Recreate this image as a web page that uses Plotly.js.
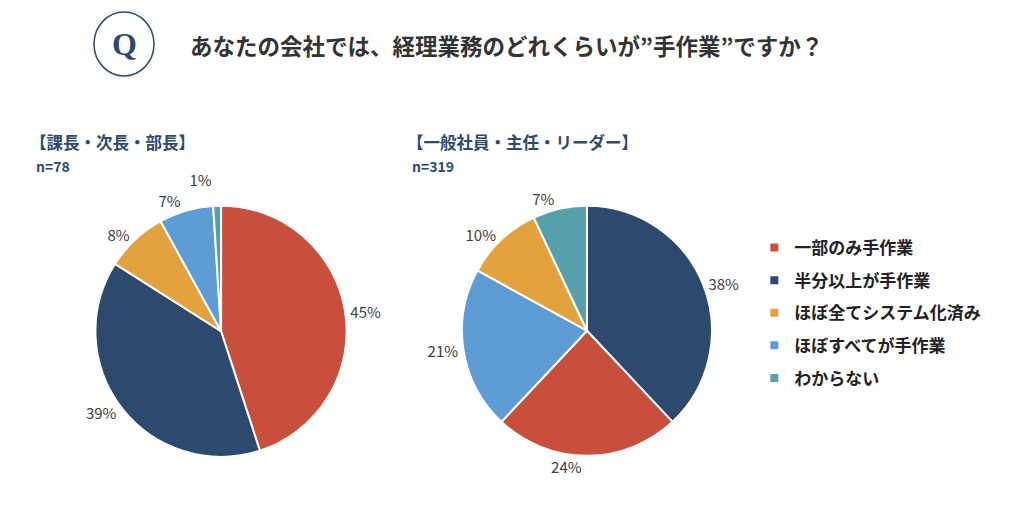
<!DOCTYPE html>
<html>
<head>
<meta charset="utf-8">
<script src="https://cdn.plot.ly/plotly-3.0.1.min.js"></script>
<style>
  html, body { margin: 0; padding: 0; background: #fff; }
  #chart { width: 1018px; height: 530px; }
  /* the reference has no leader lines on the outside labels */
  #chart .textline { display: none; }
</style>
</head>
<body>
<div id="chart"></div>
<script>
var categories = ['一部のみ手作業', '半分以上が手作業', 'ほぼ全てシステム化済み', 'ほぼすべてが手作業', 'わからない'];
var colors = ['#C94F3D', '#2D4A6E', '#E3A23E', '#5D9CD5', '#55A0AA'];

// 課長・次長・部長 (n=78)
var managerLabels = ['一部のみ手作業', '半分以上が手作業', 'ほぼ全てシステム化済み', 'ほぼすべてが手作業', 'わからない'];
var managerValues = [45, 39, 8, 7, 1];

// 一般社員・主任・リーダー (n=319)
var staffLabels = ['半分以上が手作業', '一部のみ手作業', 'ほぼすべてが手作業', 'ほぼ全てシステム化済み', 'わからない'];
var staffValues = [38, 24, 21, 10, 7];

var titleText = 'あなたの会社では、経理業務のどれくらいが”手作業”ですか？';
var groupTitles = ['【課長・次長・部長】', '【一般社員・主任・リーダー】'];
var groupCounts = ['n=78', 'n=319'];

var jp = '"Noto Sans CJK JP", "Noto Sans", sans-serif';

function colorOf(label) {
    return colors[categories.indexOf(label)];
}

function pieTrace(labels, values, domain) {
    return {
        type: 'pie',
        labels: labels,
        values: values,
        sort: false,
        direction: 'clockwise',
        rotation: 0,
        domain: domain,
        marker: {
            colors: labels.map(colorOf),
            line: { color: '#ffffff', width: 2 }
        },
        texttemplate: '%{value}%',
        textposition: 'outside',
        outsidetextfont: { family: jp, size: 15, color: '#3c3c3c' },
        showlegend: false,
        hoverinfo: 'label+percent'
    };
}

var data = [
    pieTrace(managerLabels, managerValues, { x: [0.0933, 0.341], y: [0.138, 0.612] }),
    pieTrace(staffLabels, staffValues, { x: [0.4538, 0.6994], y: [0.140, 0.612] })
];

// legend entries, one per category
categories.forEach(function (c, i) {
    data.push({
        type: 'scatter',
        mode: 'markers',
        x: [null],
        y: [null],
        name: c,
        legendgroup: 'g' + i,
        marker: { symbol: 'square', size: 8, color: colors[i] },
        hoverinfo: 'skip'
    });
});

var layout = {
    width: 1018,
    height: 530,
    margin: { l: 0, r: 0, t: 0, b: 0, pad: 0 },
    paper_bgcolor: '#ffffff',
    plot_bgcolor: 'rgba(0,0,0,0)',
    xaxis: { visible: false },
    yaxis: { visible: false },
    showlegend: true,
    legend: {
        x: 0.741,
        y: 0.566,
        xanchor: 'left',
        yanchor: 'top',
        traceorder: 'grouped',
        tracegroupgap: 7.5,
        font: { family: jp, size: 17, color: '#222222', weight: 'bold' },
        bgcolor: 'rgba(0,0,0,0)'
    },
    shapes: [{
        type: 'circle',
        xref: 'paper', yref: 'paper',
        x0: 94 / 1018, x1: 154 / 1018,
        y0: (530 - 76) / 530, y1: (530 - 12) / 530,
        line: { color: '#2D4A6E', width: 1.5 }
    }],
    annotations: [
        {
            text: 'Q', xref: 'paper', yref: 'paper',
            x: 124 / 1018, y: (530 - 44) / 530, xanchor: 'center', yanchor: 'middle',
            showarrow: false,
            font: { family: '"Liberation Serif", "DejaVu Serif", serif', size: 32, color: '#2D4A6E', weight: 'bold' }
        },
        {
            text: titleText, xref: 'paper', yref: 'paper',
            x: 188 / 1018, y: (530 - 45) / 530, xanchor: 'left', yanchor: 'middle',
            showarrow: false,
            font: { family: jp, size: 22.5, color: '#333333', weight: 'bold' }
        },
        {
            text: groupTitles[0], xref: 'paper', yref: 'paper',
            x: 28 / 1018, y: (530 - 142) / 530, xanchor: 'left', yanchor: 'middle',
            showarrow: false,
            font: { family: jp, size: 16.5, color: '#2D4A6E', weight: 'bold' }
        },
        {
            text: groupCounts[0], xref: 'paper', yref: 'paper',
            x: 34 / 1018, y: (530 - 166) / 530, xanchor: 'left', yanchor: 'middle',
            showarrow: false,
            font: { family: jp, size: 14, color: '#2D4A6E', weight: 'bold' }
        },
        {
            text: groupTitles[1], xref: 'paper', yref: 'paper',
            x: 405 / 1018, y: (530 - 142) / 530, xanchor: 'left', yanchor: 'middle',
            showarrow: false,
            font: { family: jp, size: 16.5, color: '#2D4A6E', weight: 'bold' }
        },
        {
            text: groupCounts[1], xref: 'paper', yref: 'paper',
            x: 410 / 1018, y: (530 - 166) / 530, xanchor: 'left', yanchor: 'middle',
            showarrow: false,
            font: { family: jp, size: 14, color: '#2D4A6E', weight: 'bold' }
        }
    ]
};

Plotly.newPlot('chart', data, layout, { displayModeBar: false, staticPlot: true });
</script>
</body>
</html>
